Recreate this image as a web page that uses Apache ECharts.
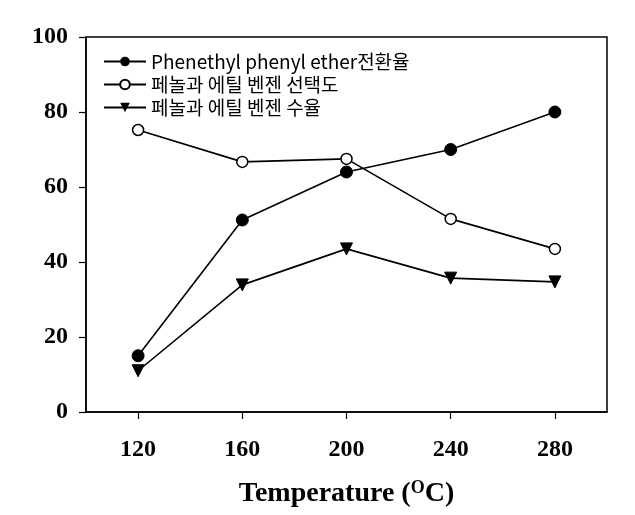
<!DOCTYPE html>
<html><head><meta charset="utf-8">
<script src="https://cdn.jsdelivr.net/npm/echarts@6/dist/echarts.min.js"></script>
<style>html,body{margin:0;padding:0;background:#fff}#c{width:635px;height:515px}</style>
</head><body><div id="c"></div>
<script>
const categories = ['120','160','200','240','280'];
const conversion = [15, 51.2, 64, 70, 80];
const selectivity = [75.2, 66.7, 67.5, 51.5, 43.5];
const yieldVals = [11, 33.9, 43.5, 35.7, 34.7];
const seriesNames = ['Phenethyl phenyl ether전환율', '페놀과 에틸 벤젠 선택도', '페놀과 에틸 벤젠 수율'];

const chart = echarts.init(document.getElementById('c'));
const lineStyle = {color:'#000', width:1.6};
chart.setOption({
  animation:false,
  grid:{left:86, top:37, width:521, height:375, show:true, borderColor:'#000', borderWidth:1.5, backgroundColor:'transparent'},
  legend:{
    left:98, top:46, orient:'vertical', itemGap:2, itemWidth:42, itemHeight:12,
    textStyle:{fontFamily:'"Noto Sans CJK KR", "Noto Sans", sans-serif', fontSize:19, lineHeight:21, color:'#000'},
    data:seriesNames
  },
  xAxis:{
    type:'category', data:categories, boundaryGap:true,
    axisLine:{show:true, lineStyle:{color:'#000', width:1.5}},
    axisTick:{show:true, alignWithLabel:true, inside:false, length:7, lineStyle:{color:'#000', width:1.2}},
    axisLabel:{margin:26, fontFamily:'"Liberation Serif", serif', fontWeight:'bold', fontSize:24, color:'#000'},
    name:'{a|Temperature (}{s|O}{a|C)}', nameLocation:'middle', nameGap:67,
    nameTextStyle:{rich:{
      a:{fontFamily:'"Liberation Serif", serif', fontWeight:'bold', fontSize:28, color:'#000'},
      s:{fontFamily:'"Liberation Serif", serif', fontWeight:'bold', fontSize:18, color:'#000', verticalAlign:'top', padding:[0,0,12,0]}
    }}
  },
  yAxis:{
    type:'value', min:0, max:100, interval:20,
    splitLine:{show:false},
    axisLine:{show:true, lineStyle:{color:'#000', width:1.5}},
    axisTick:{show:true, inside:false, length:7, lineStyle:{color:'#000', width:1.2}},
    axisLabel:{margin:18, fontFamily:'"Liberation Serif", serif', fontWeight:'bold', fontSize:24, color:'#000'}
  },
  series:[
    {name:seriesNames[0], type:'line', data:conversion, symbol:'circle', symbolSize:12,
     itemStyle:{color:'#000', borderColor:'#000'}, lineStyle:lineStyle, z:3},
    {name:seriesNames[1], type:'line', data:selectivity, symbol:'circle', symbolSize:11,
     itemStyle:{color:'#fff', borderColor:'#000', borderWidth:1.5}, lineStyle:lineStyle, z:3},
    {name:seriesNames[2], type:'line', data:yieldVals, symbol:'triangle', symbolRotate:180, symbolSize:12,
     itemStyle:{color:'#000', borderColor:'#000'}, lineStyle:lineStyle, z:3}
  ]
});
</script></body></html>
